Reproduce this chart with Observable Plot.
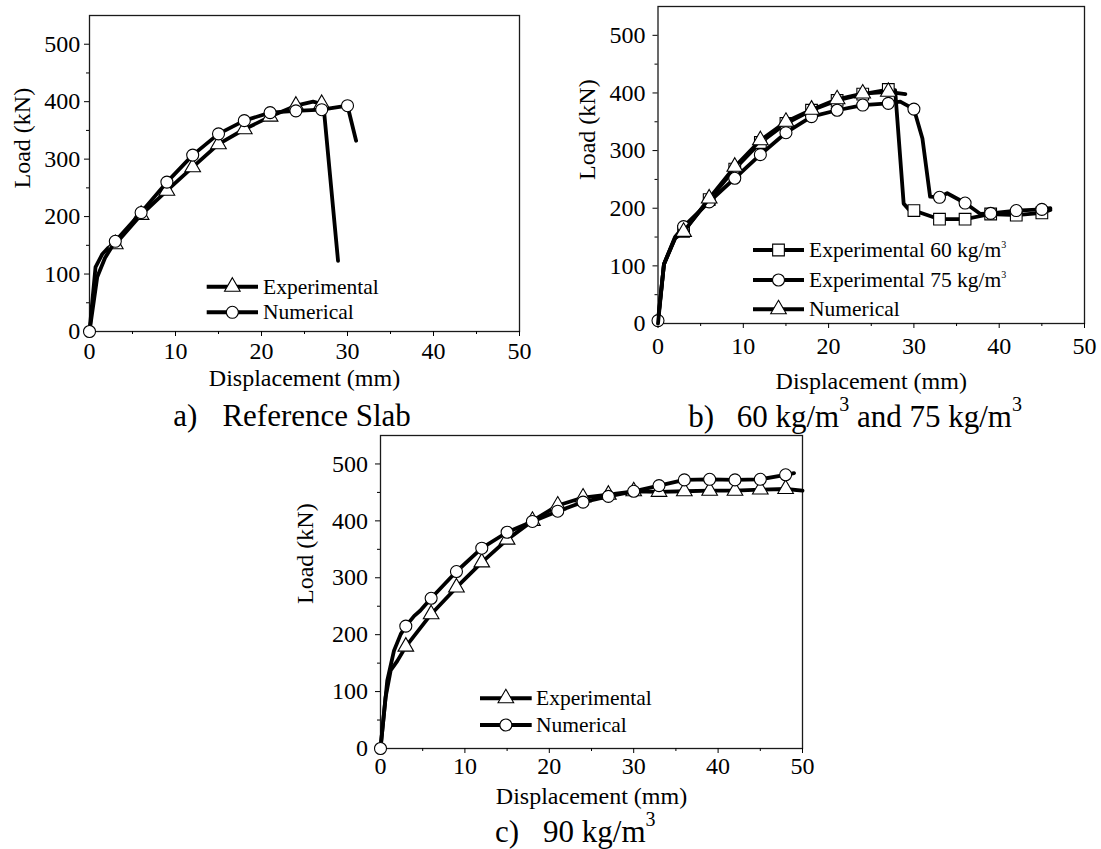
<!DOCTYPE html>
<html>
<head>
<meta charset="utf-8">
<script src="https://cdn.jsdelivr.net/npm/d3@7"></script>
<script src="https://cdn.jsdelivr.net/npm/@observablehq/plot@0.6"></script>
<style>
html, body { margin: 0; padding: 0; background: #fff; }
#page { position: relative; width: 1101px; height: 849px; overflow: hidden; background: #fff;
        font-family: "Liberation Serif", "Times New Roman", serif; }
.panel { position: absolute; }
#overlay { position: absolute; left: 0; top: 0; pointer-events: none; }
</style>
</head>
<body>
<div id="page"></div>
<script>
// ---------------- DATA ----------------
const xTicks = [0, 10, 20, 30, 40, 50];
const xMinor = [5, 15, 25, 35, 45];
const yTicks = [0, 100, 200, 300, 400, 500];
const yMinor = [50, 150, 250, 350, 450];
const xTitle = "Displacement (mm)";
const yTitle = "Load (kN)";

// Panel a) Reference Slab
const aExpX = [0, 0.7, 1.5, 2.2, 3, 6, 9, 12, 15, 18, 21, 24, 26, 27, 27.3, 28.9];
const aExpY = [0, 112, 135, 146, 152, 203, 245, 286, 326, 352, 374, 393, 400, 396, 379, 123];
const aExpMarks = [3, 6, 9, 12, 15, 18, 21, 24, 27];
const aNumX = [0, 0.9, 1.8, 3, 6, 9, 12, 15, 18, 21, 24, 27, 30, 31];
const aNumY = [0, 95, 128, 157, 207, 260, 307, 344, 367, 381, 384, 386, 393, 332];
const aNumMarks = [0, 3, 6, 9, 12, 15, 18, 21, 24, 27, 30];

// Panel b) 60 and 75 kg/m3
const b60X = [0, 0.7, 2, 3, 6, 9, 12, 15, 18, 21, 24, 27, 27.8, 28.8, 29.4, 30, 33, 36, 39, 42, 45, 46];
const b60Y = [5, 103, 148, 160, 215, 268, 314, 347, 370, 387, 398, 406, 405, 208, 198, 196, 181, 181, 190, 188, 192, 197];
const b60Marks = [3, 6, 9, 12, 15, 18, 21, 24, 27, 30, 33, 36, 39, 42, 45];
const b75X = [0, 0.7, 2, 3, 6, 9, 12, 15, 18, 21, 24, 27, 28.4, 30, 31, 31.9, 33, 33.9, 36, 37.8, 39, 42, 45, 46];
const b75Y = [5, 103, 150, 168, 211, 252, 293, 331, 359, 370, 379, 382, 385, 372, 321, 220, 219, 226, 209, 190, 191, 196, 198, 200];
const b75Marks = [0, 3, 6, 9, 12, 15, 18, 21, 24, 27, 30, 33, 36, 39, 42, 45];
const bNumX = [0, 0.7, 2, 3, 6, 9, 12, 15, 18, 21, 24, 27, 29];
const bNumY = [0, 103, 148, 159, 217, 272, 318, 350, 371, 389, 399, 402, 398];
const bNumMarks = [3, 6, 9, 12, 15, 18, 21, 24, 27];

// Panel c) 90 kg/m3
const cExpX = [0, 0.6, 1.2, 2, 3, 6, 9, 12, 15, 18, 21, 24, 27, 30, 33, 36, 39, 42, 45, 48, 50];
const cExpY = [0, 90, 137, 154, 179, 236, 283, 327, 367, 400, 427, 441, 446, 452, 451, 452, 453, 453, 455, 456, 453];
const cExpMarks = [3, 6, 9, 12, 15, 18, 21, 24, 27, 30, 33, 36, 39, 42, 45, 48];
const cNumX = [0, 0.8, 1.6, 2.4, 3, 4, 4.7, 6, 9, 12, 15, 18, 21, 24, 27, 30, 33, 36, 39, 42, 45, 48, 49];
const cNumY = [0, 119, 172, 201, 215, 233, 242, 264, 311, 352, 380, 399, 417, 433, 443, 452, 462, 472, 473, 472, 473, 481, 484];
const cNumMarks = [0, 3, 6, 9, 12, 15, 18, 21, 24, 27, 30, 33, 36, 39, 42, 45, 48];

// Legend / caption texts
const legendA = [["Experimental", ""], ["Numerical", ""]];
const legendB = [["Experimental 60 kg/m", "3"], ["Experimental 75 kg/m", "3"], ["Numerical", ""]];
const legendC = [["Experimental", ""], ["Numerical", ""]];
const capA = ["a)", [["Reference Slab", ""]]];
const capB = ["b)", [["60 kg/m", "3"], [" and 75 kg/m", "3"]]];
const capC = ["c)", [["90 kg/m", "3"]]];

// ---------------- DRAWING ----------------
const FONT = '"Liberation Serif", "Times New Roman", serif';
const LINE_W = 3.8;
const SYM_R = {circle: 6, triangle: 5.8, square: 6.6};

function makePanel(cfg) {
  const marks = [
    Plot.frame({stroke: "#1a1a1a", strokeWidth: 1.3}),
    Plot.axisX(xTicks, {tickSize: 5, tickPadding: cfg.padX, fontSize: 24, tickFormat: d => String(d),
      label: xTitle, labelAnchor: "center", labelOffset: cfg.labelOffset, labelArrow: "none"}),
    Plot.axisX(xMinor, {tickSize: 3, tickFormat: () => "", label: null}),
    Plot.axisY(yTicks, {tickSize: 5, tickPadding: cfg.padY, fontSize: 24, tickFormat: d => String(d), label: null}),
    Plot.axisY(yMinor, {tickSize: 3, tickFormat: () => "", label: null}),
    Plot.text([yTitle], {text: d => d, frameAnchor: "left", rotate: -90, lineAnchor: "top",
      dx: cfg.yLabelDx, dy: cfg.yLabelDy, fontSize: 24})
  ];
  for (const s of cfg.series) {
    const pts = s.xs.map((x, i) => ({x, y: s.ys[i]}));
    const mk = pts.filter(d => s.marks.includes(d.x));
    marks.push(Plot.line(pts, {x: "x", y: "y", stroke: "black", strokeWidth: LINE_W, strokeLinejoin: "round"}));
    marks.push(Plot.dot(mk, {x: "x", y: "y", symbol: s.symbol, r: SYM_R[s.symbol], fill: "white", stroke: "black", strokeWidth: 1.1}));
  }
  const svg = Plot.plot({
    width: cfg.width, height: cfg.height,
    marginLeft: cfg.ml, marginRight: cfg.mr, marginTop: cfg.mt, marginBottom: cfg.mb,
    x: {domain: [0, 50]},
    y: {domain: [0, 550]},
    style: {fontFamily: FONT, fontSize: "24px", color: "black", background: "transparent", overflow: "visible"},
    marks
  });
  const div = document.createElement("div");
  div.className = "panel";
  div.style.left = cfg.left + "px";
  div.style.top = cfg.top + "px";
  div.appendChild(svg);
  document.getElementById("page").appendChild(div);
}

makePanel({
  left: 0, top: 0, width: 545, height: 400, ml: 89, mr: 26, mt: 15, mb: 69,
  padX: 5, padY: 4.3, labelOffset: 54, yLabelDx: -77, yLabelDy: 15,
  series: [
    {xs: aExpX, ys: aExpY, marks: aExpMarks, symbol: "triangle"},
    {xs: aNumX, ys: aNumY, marks: aNumMarks, symbol: "circle"}
  ]
});
makePanel({
  left: 560, top: 0, width: 541, height: 400, ml: 97.5, mr: 17, mt: 6, mb: 77,
  padX: 8.5, padY: 7.5, labelOffset: 65, yLabelDx: -80.5, yLabelDy: 15,
  series: [
    {xs: b60X, ys: b60Y, marks: b60Marks, symbol: "square"},
    {xs: b75X, ys: b75Y, marks: b75Marks, symbol: "circle"},
    {xs: bNumX, ys: bNumY, marks: bNumMarks, symbol: "triangle"}
  ]
});
makePanel({
  left: 290, top: 420, width: 540, height: 400, ml: 90, mr: 28, mt: 15, mb: 72,
  padX: 3.5, padY: 7.5, labelOffset: 55, yLabelDx: -85, yLabelDy: 12,
  series: [
    {xs: cExpX, ys: cExpY, marks: cExpMarks, symbol: "triangle"},
    {xs: cNumX, ys: cNumY, marks: cNumMarks, symbol: "circle"}
  ]
});

// Overlay: legends and captions
const overlay = d3.create("svg").attr("id", "overlay").attr("width", 1101).attr("height", 849)
  .style("font-family", FONT);
const symbolType = {circle: d3.symbolCircle, triangle: d3.symbolTriangle, square: d3.symbolSquare};

function drawLegend(items, symbols, lay) {
  items.forEach((it, i) => {
    const y = lay.rows[i];
    const g = overlay.append("g");
    g.append("line").attr("x1", lay.x1).attr("x2", lay.x2).attr("y1", y).attr("y2", y)
      .attr("stroke", "black").attr("stroke-width", 4);
    const r = SYM_R[symbols[i]];
    g.append("path").attr("d", d3.symbol(symbolType[symbols[i]], Math.PI * r * r)())
      .attr("transform", `translate(${(lay.x1 + lay.x2) / 2},${y})`)
      .attr("fill", "white").attr("stroke", "black").attr("stroke-width", 1.1);
    const t = g.append("text").attr("x", lay.tx).attr("y", y + 7).attr("font-size", 21.5).attr("fill", "black")
      .style("white-space", "pre");
    t.append("tspan").text(it[0]);
    if (it[1]) t.append("tspan").attr("dy", -9).attr("font-size", 10).text(it[1]);
  });
}
drawLegend(legendA, ["triangle", "circle"], {x1: 206.7, x2: 258, tx: 263, rows: [286.7, 312.3]});
drawLegend(legendB, ["square", "circle", "triangle"], {x1: 753, x2: 804, tx: 809, rows: [250, 280, 309.3]});
drawLegend(legendC, ["triangle", "circle"], {x1: 480, x2: 531.7, tx: 536, rows: [698.3, 725]});

function drawCaption(cap, lay) {
  const t = overlay.append("text").attr("x", lay.x).attr("y", lay.y).attr("font-size", 31).attr("fill", "black")
    .style("white-space", "pre");
  t.append("tspan").text(cap[0]);
  cap[1].forEach((part, i) => {
    const sp = t.append("tspan").text(part[0]);
    if (i === 0) sp.attr("dx", lay.gap);
    if (part[1]) {
      sp.attr("dy", i === 0 ? 0 : 16);
      t.append("tspan").attr("dy", -16).attr("font-size", 20).text(part[1]);
    }
  });
}
drawCaption(capA, {x: 173.3, y: 426, gap: 25});
drawCaption(capB, {x: 688.3, y: 427, gap: 22.6});
drawCaption(capC, {x: 495, y: 842, gap: 24});

document.getElementById("page").appendChild(overlay.node());
</script>
</body>
</html>
